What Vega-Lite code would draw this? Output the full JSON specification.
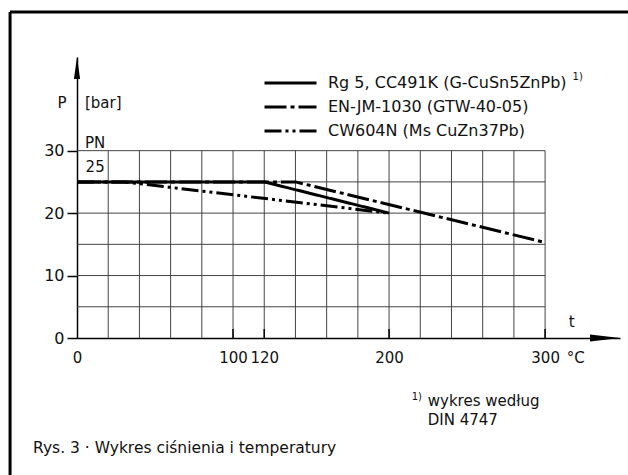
{
  "$schema": "https://vega.github.io/schema/vega-lite/v6.json",
  "width": 543,
  "height": 281,
  "autosize": {"type": "none"},
  "padding": {"left": 77, "top": 57, "right": 8, "bottom": 137},
  "background": "white",
  "config": {
    "view": {"stroke": null},
    "font": "DejaVu Sans",
    "text": {"font": "DejaVu Sans", "color": "#111"}
  },
  "datasets": {
    "curves": [
      {"s": "Rg", "t": 0, "p": 25}, {"s": "Rg", "t": 120, "p": 25}, {"s": "Rg", "t": 200, "p": 20},
      {"s": "EN", "t": 0, "p": 25}, {"s": "EN", "t": 140, "p": 25}, {"s": "EN", "t": 300, "p": 15.3},
      {"s": "CW", "t": 0, "p": 25}, {"s": "CW", "t": 30, "p": 25}, {"s": "CW", "t": 200, "p": 20}
    ],
    "vgrid": [{"t": 20}, {"t": 40}, {"t": 60}, {"t": 80}, {"t": 100}, {"t": 120}, {"t": 140}, {"t": 160}, {"t": 180}, {"t": 200}, {"t": 220}, {"t": 240}, {"t": 260}, {"t": 280}, {"t": 300}],
    "hgrid": [{"p": 5}, {"p": 10}, {"p": 15}, {"p": 20}, {"p": 25}, {"p": 30}],
    "xticks": [{"t": 100}, {"t": 120}, {"t": 200}, {"t": 300}],
    "frameV": [{"x": -42.9, "y": -25, "y2": 52.2}],
    "frameH": [{"x": -42.9, "x2": 380, "y": 52.2}],
    "arrowX": [{"t": 348, "p": 0}],
    "arrowY": [{"t": 0, "p": 45}],
    "notesL": [
      {"x": 5.1, "y": 37.6, "txt": "[bar]"},
      {"x": 5.1, "y": 31.2, "txt": "PN"},
      {"x": 5.5, "y": 27.4, "txt": "25"},
      {"x": 313.8, "y": -3.2, "txt": "°C"},
      {"x": 224.8, "y": -10.1, "txt": "wykres według"},
      {"x": 224.8, "y": -13.2, "txt": "DIN 4747"}
    ],
    "caption": [
      {"x": -28.2, "y": -17.6, "txt": "Rys. 3 · Wykres ciśnienia i temperatury"}
    ],
    "notesC": [
      {"x": -9.6, "y": 37.6, "txt": "P"},
      {"x": 317, "y": 2.6, "txt": "t"}
    ],
    "notesSup": [
      {"x": 317.6, "y": 41.8, "txt": "1)"},
      {"x": 214.5, "y": -9.4, "txt": "1)"}
    ]
  },
  "layer": [
    {
      "data": {"name": "vgrid"},
      "mark": {"type": "rule", "color": "#444", "strokeWidth": 1},
      "encoding": {
        "x": {"field": "t", "type": "quantitative", "scale": {"domain": [0, 348], "nice": false, "zero": false},
              "axis": {"values": [0, 100, 120, 200, 300], "title": null, "ticks": false, "domainColor": "#000", "domainWidth": 1.5,
                       "labelFontSize": 15, "labelColor": "#111", "labelPadding": 12, "grid": false, "labelFont": "DejaVu Sans", "labelOverlap": false, "labelFlush": false}},
        "y": {"datum": 0, "type": "quantitative", "scale": {"domain": [0, 45], "nice": false},
              "axis": {"values": [0, 10, 20, 30], "title": null, "tickSize": 10, "tickColor": "#000", "tickWidth": 1.5, "domainColor": "#000", "domainWidth": 1.5,
                       "labelFontSize": 16, "labelColor": "#111", "labelPadding": 3, "grid": false, "labelFont": "DejaVu Sans", "labelFlush": false}},
        "y2": {"datum": 30}
      }
    },
    {
      "data": {"name": "hgrid"},
      "mark": {"type": "rule", "color": "#444", "strokeWidth": 1},
      "encoding": {
        "y": {"field": "p", "type": "quantitative"},
        "x": {"datum": 0},
        "x2": {"datum": 300}
      }
    },
    {
      "data": {"name": "xticks"},
      "mark": {"type": "rule", "color": "#000", "strokeWidth": 1.5},
      "encoding": {
        "x": {"field": "t", "type": "quantitative"},
        "y": {"datum": 0},
        "y2": {"datum": 1.45}
      }
    },
    {
      "data": {"name": "curves"},
      "mark": {"type": "line", "color": "#000", "strokeWidth": 3, "clip": false},
      "encoding": {
        "x": {"field": "t", "type": "quantitative"},
        "y": {"field": "p", "type": "quantitative"},
        "detail": {"field": "s"},
        "order": {"field": "t"},
        "strokeDash": {
          "field": "s", "type": "nominal",
          "scale": {"domain": ["Rg", "EN", "CW"], "range": [[1, 0], [22, 4, 4, 4], [17, 4, 3, 4, 3, 4]]},
          "legend": {
            "orient": "none", "legendX": 186, "legendY": 16, "title": null,
            "symbolType": "stroke", "symbolSize": 2704, "symbolStrokeWidth": 3, "symbolStrokeColor": "#000",
            "labelFontSize": 16, "labelColor": "#111", "labelOffset": 10, "labelFont": "DejaVu Sans", "labelLimit": 0,
            "clipHeight": 20, "rowPadding": 4, "padding": 0,
            "labelExpr": "datum.value == 'Rg' ? 'Rg 5, CC491K (G-CuSn5ZnPb)' : datum.value == 'EN' ? 'EN-JM-1030 (GTW-40-05)' : 'CW604N (Ms CuZn37Pb)'"
          }
        }
      }
    },
    {
      "data": {"name": "frameV"},
      "mark": {"type": "rule", "color": "#000", "strokeWidth": 3, "clip": false},
      "encoding": {"x": {"field": "x", "type": "quantitative"}, "y": {"field": "y", "type": "quantitative"}, "y2": {"field": "y2"}}
    },
    {
      "data": {"name": "frameH"},
      "mark": {"type": "rule", "color": "#000", "strokeWidth": 3, "clip": false},
      "encoding": {"x": {"field": "x", "type": "quantitative"}, "x2": {"field": "x2"}, "y": {"field": "y", "type": "quantitative"}}
    },
    {
      "data": {"name": "arrowX"},
      "mark": {"type": "point", "shape": "M-2,-0.24L0,0L-2,0.24Z", "filled": true, "color": "#000", "opacity": 1, "size": 900, "clip": false},
      "encoding": {"x": {"field": "t", "type": "quantitative"}, "y": {"field": "p", "type": "quantitative"}}
    },
    {
      "data": {"name": "arrowY"},
      "mark": {"type": "point", "shape": "M-0.28,2L0,0L0.28,2Z", "filled": true, "color": "#000", "opacity": 1, "size": 484, "clip": false},
      "encoding": {"x": {"field": "t", "type": "quantitative"}, "y": {"field": "p", "type": "quantitative"}}
    },
    {
      "data": {"name": "notesL"},
      "mark": {"type": "text", "align": "left", "baseline": "middle", "fontSize": 15, "clip": false},
      "encoding": {"x": {"field": "x", "type": "quantitative"}, "y": {"field": "y", "type": "quantitative"}, "text": {"field": "txt"}}
    },
    {
      "data": {"name": "caption"},
      "mark": {"type": "text", "align": "left", "baseline": "middle", "fontSize": 15.5, "clip": false},
      "encoding": {"x": {"field": "x", "type": "quantitative"}, "y": {"field": "y", "type": "quantitative"}, "text": {"field": "txt"}}
    },
    {
      "data": {"name": "notesC"},
      "mark": {"type": "text", "align": "center", "baseline": "middle", "fontSize": 15, "clip": false},
      "encoding": {"x": {"field": "x", "type": "quantitative"}, "y": {"field": "y", "type": "quantitative"}, "text": {"field": "txt"}}
    },
    {
      "data": {"name": "notesSup"},
      "mark": {"type": "text", "align": "left", "baseline": "middle", "fontSize": 10, "clip": false},
      "encoding": {"x": {"field": "x", "type": "quantitative"}, "y": {"field": "y", "type": "quantitative"}, "text": {"field": "txt"}}
    }
  ]
}
